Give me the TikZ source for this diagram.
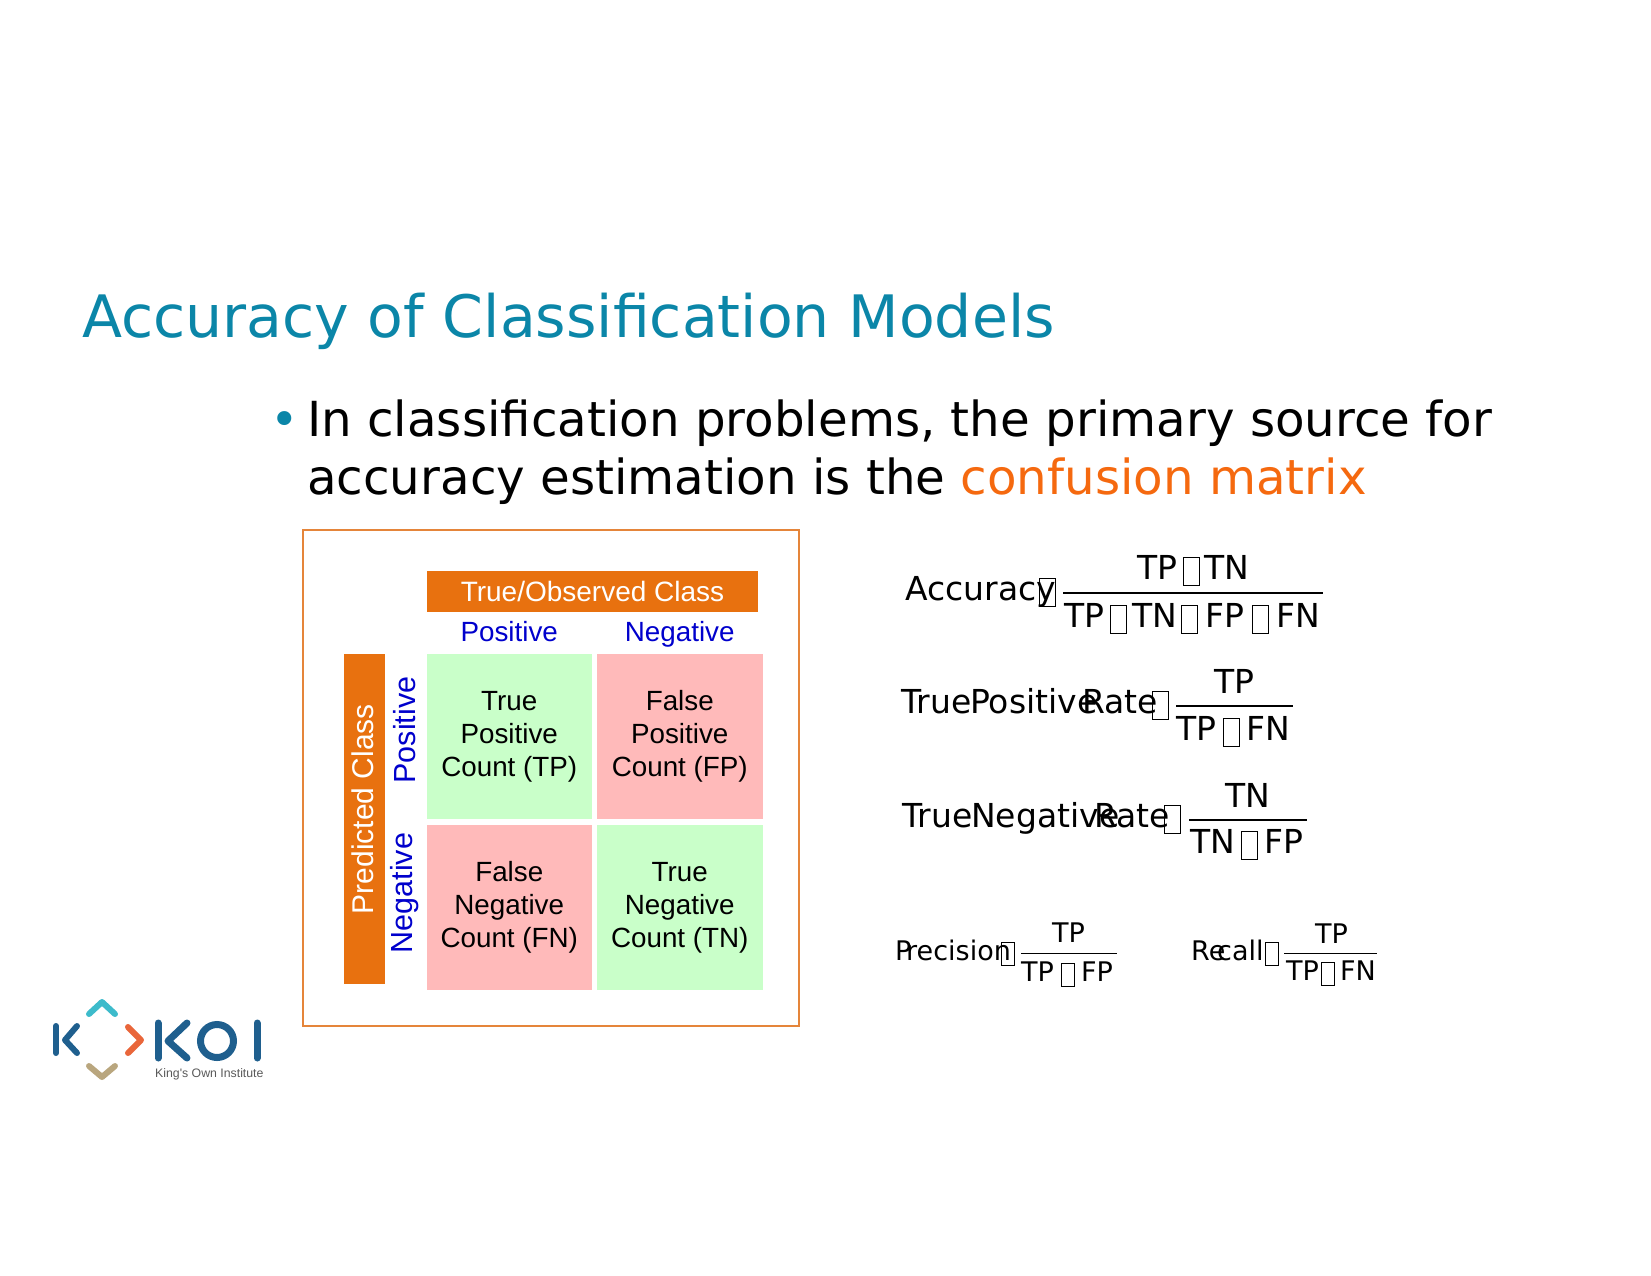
\documentclass[tikz,border=0pt]{standalone}
\usepackage{fontspec}
\setmainfont{DejaVu Sans}
\newfontfamily\cellfont{Liberation Sans}
\usetikzlibrary{matrix,positioning}
\definecolor{koiteal}{HTML}{0B86A8}
\definecolor{koiorange}{HTML}{F5690F}
\definecolor{barorange}{HTML}{E8710F}
\definecolor{frameorange}{HTML}{E5853A}
\definecolor{goodcell}{HTML}{C9FFC9}
\definecolor{badcell}{HTML}{FFBABA}
\definecolor{axisblue}{HTML}{0000CC}
\definecolor{logoblue}{HTML}{1F5F8E}
\definecolor{logosky}{HTML}{3DBBCB}
\definecolor{logored}{HTML}{E9663A}
\definecolor{logotan}{HTML}{B9A67E}
\newcommand{\nobox}{\setlength{\fboxsep}{0pt}\setlength{\fboxrule}{.035em}\raisebox{-.17em}{\fbox{\rule{0pt}{.81em}\rule{.43em}{0pt}}}}

\begin{document}
\begin{tikzpicture}[
x=1pt,y=-1pt,
head/.style={
  anchor=base west,
  inner sep=0pt,
  font=\fontsize{#1}{#1}\selectfont
  },
eqbig/.style={anchor=base west,inner sep=0pt,font=\fontsize{33}{33}\selectfont},
eqsmall/.style={anchor=base west,inner sep=0pt,font=\fontsize{27}{27}\selectfont},
eqbar/.style={line width=1.3pt},
bar/.style={
  fill=barorange,
  text=white,
  inner sep=0pt,
  font=\cellfont\fontsize{28}{28}\selectfont
  },
barlabel/.style={
  text=white,
  inner sep=0pt,
  font=\cellfont\fontsize{30}{30}\selectfont
  },
axis/.style={
  text=axisblue,
  inner sep=0pt,
  font=\cellfont\fontsize{#1}{#1}\selectfont
  },
conf/.style={
  matrix of nodes,
  nodes={
    minimum width=165.5pt,
    minimum height=165pt,
    inner sep=0pt,
    font=\cellfont\fontsize{27.8}{33}\selectfont
    },
  column sep=5pt,
  row sep=6pt
  },
good/.style={fill=goodcell},
bad/.style={fill=badcell},
logo/.style={line width=6pt,line cap=round,line join=round}
]
\useasboundingbox (0,0) rectangle (1651,1275);

\node[head=58.5,text=koiteal] (title) at (82,337) {Accuracy of Classification Models};
\node[head=48.3,text=koiteal] (dot) at (270,436) {•};
\node[head=48.3] (line1) at (307,436) {In classification problems, the primary source for};
\node[head=48.3] (line2) at (307,494) {accuracy estimation is the \textcolor{koiorange}{confusion matrix}};

\draw[frameorange,line width=1.5pt] (303,530) rectangle (799,1026);

\matrix[conf] (mat) at (594.5,822)
{
|[good]| \parbox{160pt}{\centering True\\Positive\\Count (TP)} &
|[bad]| \parbox{160pt}{\centering False\\Positive\\Count (FP)} \\
|[bad]| \parbox{160pt}{\centering False\\Negative\\Count (FN)} &
|[good]| \parbox{160pt}{\centering True\\Negative\\Count (TN)} \\
};
\node[bar,minimum width=331pt,minimum height=41pt] (observed) at (592.5,591.5) {True/Observed Class};
\node[bar,rotate=90,minimum width=330pt,minimum height=41pt] (predicted) at (364.5,819) {};
\node[barlabel,rotate=90] (predictedname) at (363,809) {Predicted Class};
\node[axis=27.8,above=15pt of mat-1-1.north,anchor=mid] (colpos) {Positive};
\node[axis=27.8,above=15pt of mat-1-2.north,anchor=mid] (colneg) {Negative};
\node[axis=30.5,rotate=90] (rowpos) at (405,730) {Positive};
\node[axis=30.5,rotate=90] (rowneg) at (405,893) {Negative};

\foreach \x/\y/\t [count=\i] in {
  905/600/Accuracy,1039/600/\nobox,1137/579/TP,1183/579/\nobox,1204/579/TN,
  1064/627/TP,1110/627/\nobox,1132/627/TN,1181/627/\nobox,1205/627/FP,1252/627/\nobox,1276/627/FN,
  901/713/True,970/713/Positive,1082/713/Rate,1152/713/\nobox,
  1214/693/TP,1176/740/TP,1223/740/\nobox,1246/740/FN,
  902/827/True,971/827/Negative,1094/827/Rate,1164/827/\nobox,
  1225/807/TN,1190/853/TN,1241/853/\nobox,1264/853/FP}
  \node[eqbig] (big\i) at (\x,\y) {\t};
\foreach \x/\y/\t [count=\i] in {
  895/960/P,906/960/recision,1001/960/\nobox,
  1052/942/TP,1021/981/TP,1061/981/\nobox,1081/981/FP,
  1191/960/Re,1217/960/call,1265/960/\nobox,
  1315/943/TP,1286/980/TP,1321/980/\nobox,1340/980/FN}
  \node[eqsmall] (small\i) at (\x,\y) {\t};
\draw[eqbar] (1063,593) -- (1323,593);
\draw[eqbar] (1176,706) -- (1293,706);
\draw[eqbar] (1189,820) -- (1307,820);
\draw[eqbar,line width=1pt] (1021,953) -- (1117,953);
\draw[eqbar,line width=1pt] (1284,953) -- (1377,953);

\draw[logo,logosky] (89,1014) -- (102,1002) -- (115,1014);
\draw[logo,logoblue] (56,1026) -- (56,1053);
\draw[logo,logoblue] (77,1026) -- (65,1040) -- (77,1053);
\draw[logo,logored] (128,1027) -- (141,1040) -- (128,1053);
\draw[logo,logotan] (89,1066) -- (102,1077) -- (115,1066);
\draw[logo,logoblue,line width=7pt] (158,1023) -- (158,1058);
\draw[logo,logoblue,line width=7pt] (187,1023) -- (168,1041) -- (187,1058);
\draw[logoblue,line width=7pt] (217,1041) circle (16.5);
\draw[logo,logoblue,line width=7pt] (257,1023) -- (257,1058);
\node[anchor=base west,inner sep=0pt,text=black!65,font=\cellfont\fontsize{12.3}{12.3}\selectfont] (koiname) at (155,1077) {King's Own Institute};
\end{tikzpicture}
\end{document}
